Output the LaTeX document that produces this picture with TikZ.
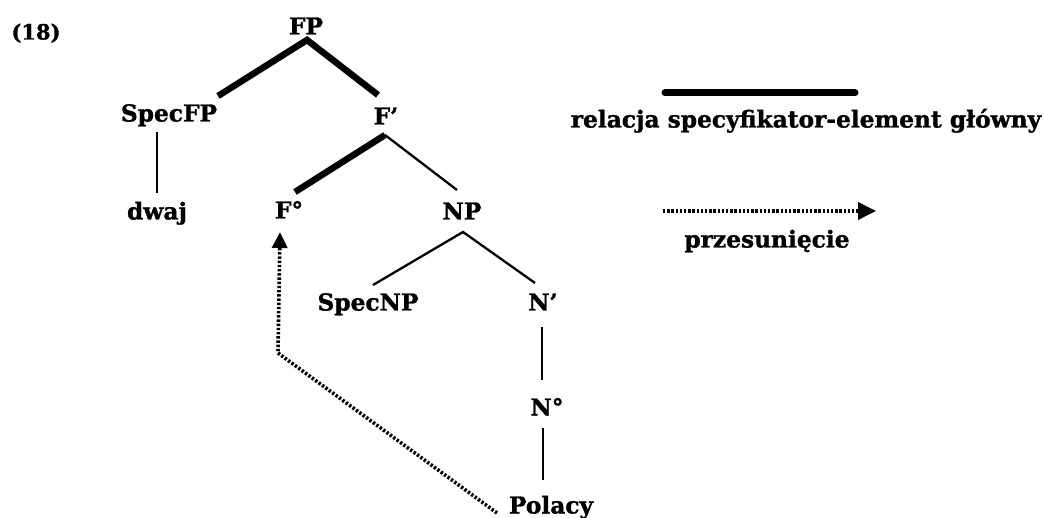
\documentclass[tikz,border=0pt]{standalone}
\usepackage{fontspec}
\setmainfont{DejaVu Serif}[BoldFeatures={FakeBold=1.3}]
\usetikzlibrary{arrows.meta,calc}
\begin{document}
\begin{tikzpicture}[x=1pt,y=-1pt,
  lbl/.style={font=\bfseries\fontsize{23.3}{26}\selectfont, inner sep=2pt,
              text height=17pt, text depth=0pt},
  numlbl/.style={lbl, font=\bfseries\fontsize{21}{24}\selectfont},
  thinedge/.style={line width=2.3pt},
  headedge/.style={line width=6.5pt},
  movement/.style={line width=3.6pt, dash pattern=on 2.4pt off 1.8pt,
                   -{Triangle[width=15pt,length=16pt]}}]
\useasboundingbox (0,0) rectangle (1044,518);

% example number
\node[numlbl] (ex) at (36,31) {(18)};

% tree nodes
\node[lbl] (FP)     at (306,26)  {FP};
\node[lbl] (SpecFP) at (169,113) {SpecFP};
\node[lbl] (Fbar)   at (386,116) {F’};
\node[lbl] (dwaj)   at (157,211) {dwaj};
\node[lbl] (F0)     at (289,210) {F°};
\node[lbl] (NP)     at (462,211) {NP};
\node[lbl] (SpecNP) at (368,302) {SpecNP};
\node[lbl] (Nbar)   at (543,302) {N’};
\node[lbl] (N0)     at (547,407) {N°};
\node[lbl] (Polacy) at (551,505) {Polacy};

% specifier-head branches (thick)
\draw[headedge] ($(SpecFP)+(49,-17)$) -- ($(FP)+(1,14)$) -- ($(Fbar)+(-8,-21)$);
\draw[headedge] ($(F0)+(6,-18)$) -- ($(Fbar)+(-1,19)$);

% ordinary branches
\draw[thinedge] ($(Fbar)+(-1,19)$) -- ($(NP)+(-5,-21)$);
\draw[thinedge] ($(SpecFP)+(-12,19)$) -- ($(dwaj)+(0,-18)$);
\draw[thinedge] ($(SpecNP)+(5,-17)$) -- ($(NP)+(1,21)$) -- ($(Nbar)+(-8,-19)$);
\draw[thinedge] ($(Nbar)+(-1,25)$) -- ($(N0)+(-5,-27)$);
\draw[thinedge] ($(N0)+(-4,21)$) -- ($(Polacy)+(-8,-25)$);

% head movement
\coordinate (bend) at (278,353);
\draw[movement] ($(Polacy)+(-54,8)$) -- (bend) -- ($(F0)+(-9,22)$);

% legend
\coordinate (legA) at (665,93);
\coordinate (legB) at (855,93);
\draw[line width=7pt, line cap=round] (legA) -- (legB);
\node[lbl] (legspec) at (806,119) {relacja specyfikator-element główny};

\coordinate (movA) at (663,211);
\coordinate (movB) at (876,211);
\draw[movement, -{Triangle[width=17pt,length=18pt]}] (movA) -- (movB);
\node[lbl] (legmove) at (767,239) {przesunięcie};
\end{tikzpicture}
\end{document}
